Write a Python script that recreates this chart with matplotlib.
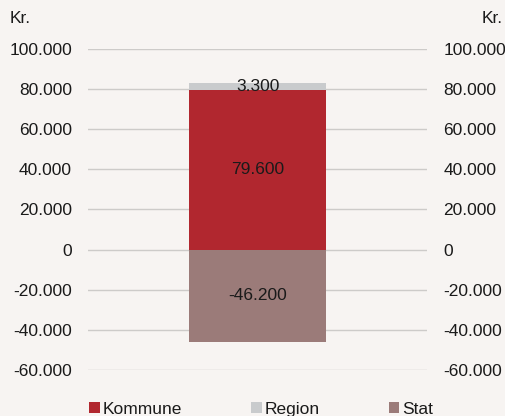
import matplotlib.pyplot as plt
from matplotlib.ticker import FuncFormatter

# data (kr.)
categories = ["Kommune", "Region", "Stat"]
values = [79600, 3300, -46200]
colors = ["#b1272f", "#c9cbcd", "#9b7b79"]
y_ticks = [-60000, -40000, -20000, 0, 20000, 40000, 60000, 80000, 100000]

BG = "#f7f4f2"
plt.rcParams['font.family'] = ['Liberation Sans', 'DejaVu Sans']


def dk_format(v, pos=None):
    # danish thousands separator
    return f"{int(v):,}".replace(",", ".")


def main():
    fig = plt.figure(figsize=(5.05, 4.16), dpi=100, facecolor=BG)
    ax = fig.add_axes([0.174, 0.111, 0.672, 0.771], facecolor=BG)

    # stack positives upward, negatives downward
    pos_base = 0
    neg_base = 0
    for name, val, col in zip(categories, values, colors):
        if val >= 0:
            bottom = pos_base
            pos_base += val
        else:
            bottom = neg_base
            neg_base += val
        bar = ax.bar(0, val, width=0.404, bottom=bottom, color=col, label=name, zorder=3)
        ax.bar_label(bar, labels=[dk_format(val)], label_type='center', fontsize=12.5,
                     color="#1a1a1a", zorder=4)

    ax.set_xlim(-0.5, 0.5)
    ax.set_ylim(-60000, 100000)
    ax.set_yticks(y_ticks)
    ax.yaxis.set_major_formatter(FuncFormatter(dk_format))
    ax.set_xticks([])
    ax.grid(axis='y', color="#cdcbc9", linewidth=1.0, zorder=0)
    for s in ax.spines.values():
        s.set_visible(False)
    ax.tick_params(axis='y', length=0, pad=11.5, labelsize=12.5, labelcolor="#1a1a1a",
                   labelleft=True, labelright=True)

    fig.text(0.02, 0.955, "Kr.", fontsize=12.5, color="#1a1a1a", va='center', ha='left')
    fig.text(0.996, 0.955, "Kr.", fontsize=12.5, color="#1a1a1a", va='center', ha='right')

    handles, labels = ax.get_legend_handles_labels()
    fig.legend(handles, labels, loc='center', bbox_to_anchor=(0.517, 0.016), ncol=3,
               frameon=False, fontsize=12.5, handlelength=0.6, handleheight=0.6,
               handletextpad=0.15, columnspacing=4.0, labelcolor="#1a1a1a")

    fig.savefig("out.png", dpi=100, facecolor=BG)


if __name__ == "__main__":
    main()
